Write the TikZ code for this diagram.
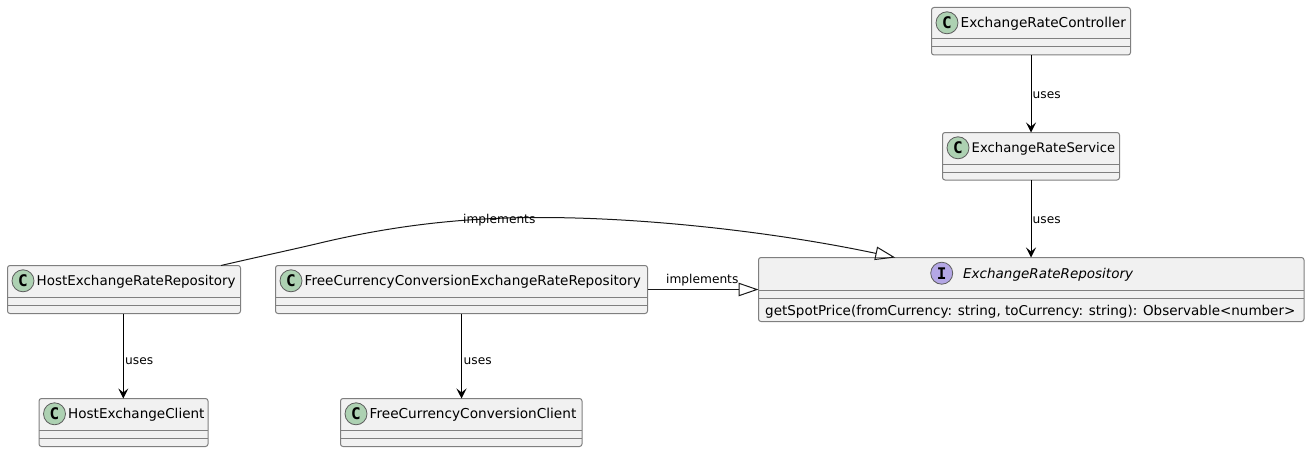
\documentclass[tikz,border=0pt]{standalone}
\usepackage{fontspec}
\setmainfont{DejaVu Sans}
\newfontfamily\spotfont{DejaVu Sans Mono}
\usetikzlibrary{arrows.meta,calc}
\definecolor{boxfill}{HTML}{F1F1F1}
\definecolor{boxline}{HTML}{7F7F7F}
\definecolor{cfill}{HTML}{ADD1B2}
\definecolor{ifill}{HTML}{B4A7E5}
\definecolor{ink}{HTML}{181818}
\tikzset{
  x=1pt,y=-1pt,
  umlbox/.style={draw=boxline,fill=boxfill,line width=1pt,rounded corners=2.5pt,inner sep=0pt,outer sep=0pt},
  sepline/.style={draw=boxline,line width=1pt},
  spot/.style={circle,draw=ink!70,line width=.8pt,minimum size=22pt,inner sep=0pt,text=black,font=\spotfont\fontsize{16}{16}\selectfont\bfseries},
  cspot/.style={spot,fill=cfill},
  ispot/.style={spot,fill=ifill},
  cname/.style={anchor=west,inner sep=0pt,text=black},
  lbl/.style={anchor=west,inner sep=0pt,font=\fontsize{12.2}{14}\selectfont,text=black},
  uses/.style={draw=black,line width=1pt,-{Stealth[length=10pt,width=10pt,inset=4pt]}},
  impl/.style={draw=ink,line width=1pt,-{Triangle[open,length=20pt,width=13.5pt,fill=none]}},
}
% name, x1, y1, x2, y2, text, font size
\newcommand{\umlclass}[7]{%
  \node[umlbox,minimum width=#4pt-#2pt,minimum height=#5pt-#3pt] (#1) at ({(#2+#4)/2},{(#3+#5)/2}) {};
  \draw[sepline] ([yshift=16pt]#1.south west) -- ([yshift=16pt]#1.south east);
  \draw[sepline] ([yshift=8pt]#1.south west) -- ([yshift=8pt]#1.south east);
  \node[cspot] (#1spot) at ({#2+15.5},{#3+15.3}) {C};
  \node[cname,font=\fontsize{#7}{16}\selectfont] (#1name) at ({#2+29},{#3+16.6}) {#6};
}
\begin{document}
\begin{tikzpicture}
\useasboundingbox (0,0) rectangle (1308,452);
\umlclass{ctrl}{931.5}{7.5}{1130.5}{55}{ExchangeRateController}{13.65}
\umlclass{svc}{942.5}{132.5}{1119.5}{180}{ExchangeRateService}{13.2}
\umlclass{host}{7.5}{265.5}{240.5}{313.5}{HostExchangeRateRepository}{13.46}
\umlclass{free}{275.5}{265.5}{647.5}{313.5}{FreeCurrencyConversionExchangeRateRepository}{13.59}
\umlclass{hclient}{39}{398.5}{208}{446.5}{HostExchangeClient}{13.55}
\umlclass{fclient}{340.5}{398.5}{582}{446.5}{FreeCurrencyConversionClient}{13.66}
% interface
\node[umlbox,minimum width=545.5pt,minimum height=64pt] (repo) at (1031.25,289.5) {};
\draw[sepline] ([yshift=31.5pt]repo.south west) -- ([yshift=31.5pt]repo.south east);
\draw[sepline] ([yshift=23.5pt]repo.south west) -- ([yshift=23.5pt]repo.south east);
\node[ispot] (repospot) at (941.7,273.2) {I};
\node[cname,font=\fontsize{13.5}{16}\selectfont\itshape] (reponame) at (963,274.4) {ExchangeRateRepository};
\node[cname,font=\fontsize{13.5}{16}\selectfont] (repomethod) at (765,311.4) {getSpotPrice(fromCurrency: string, toCurrency: string): Observable<number>};
% connectors
\draw[uses] (ctrl.south) -- (ctrl.south |- svc.north);
\draw[uses] (svc.south) -- (svc.south |- repo.north);
\draw[uses] ([xshift=-.7pt]host.south) -- ([xshift=-.7pt]host.south |- hclient.north);
\draw[uses] (free.south) -- (free.south |- fclient.north);
\draw[impl] ([xshift=-19.5pt]host.north east) .. controls +(41,-9.5) and (295,249) .. (320,243)
  .. controls (400,224) and (470,217.5) .. (540,217.5)
  .. controls (650,217.5) and (780,233) .. ([xshift=-136pt]repo.north);
\draw[impl] (free.east |- repo.west) -- (repo.west);
% labels
\node[lbl] (u1) at (1032.5,95.6) {uses};
\node[lbl] (u2) at (1032.5,220.6) {uses};
\node[lbl] (u3) at (125,361.6) {uses};
\node[lbl] (u4) at (463.5,361.6) {uses};
\node[lbl] (i1) at (463,220.6) {implements};
\node[lbl] (i2) at (666,280) {implements};
\end{tikzpicture}
\end{document}
